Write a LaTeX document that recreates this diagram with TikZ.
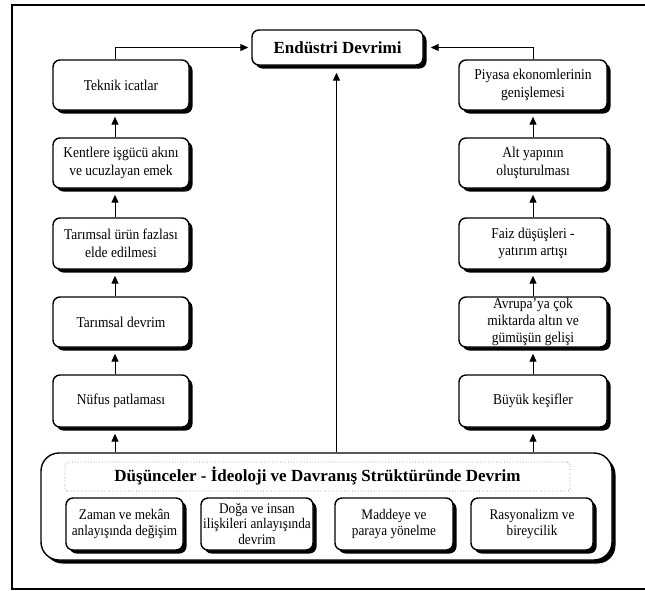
\documentclass[tikz,border=0pt]{standalone}
\usepackage{fontspec}
\setmainfont{Liberation Serif}
\newfontfamily\condserif[FakeStretch=0.9]{Liberation Serif}
\usetikzlibrary{arrows.meta,shadows,calc}
\newcommand\fsbox{\condserif\fontsize{15}{17.5}\selectfont}
\newcommand\fsboxtight{\condserif\fontsize{15}{16.6}\selectfont}
\newcommand\fssub{\condserif\fontsize{14.7}{15.4}\selectfont}
\newcommand\fstitle{\fontsize{17}{20}\selectfont\bfseries}
\tikzset{
  shad/.style={drop shadow={shadow xshift=3.5pt,shadow yshift=-3.5pt,fill=black,opacity=1}},
  box/.style={draw,line width=1.4pt,rounded corners=7pt,fill=white,inner sep=1pt,align=center,shad},
  colbox/.style={box,font=\fsbox,minimum height=50pt},
  lbox/.style={colbox,minimum width=136pt},
  rbox/.style={colbox,minimum width=148pt},
  subbox/.style={box,font=\fssub,minimum height=52pt},
  arr/.style={line width=1pt,-{Triangle[length=8pt,width=7pt]}}
}
\begin{document}
\begin{tikzpicture}[x=1pt,y=-1pt]
\useasboundingbox (0,0) rectangle (645,590);
\draw[line width=2pt] (12,5) rectangle (648,588.8);

\coordinate (lx) at (115,0);
\coordinate (rx) at (533,0);
\coordinate (cx) at (336.5,0);

\node[box,font=\fstitle,minimum width=171pt,minimum height=35pt] (endustri) at (337.5,47.5) {Endüstri Devrimi};

% left column
\node[lbox] (teknik) at (121,85) {Teknik icatlar};
\node[lbox] (kentlere) at (121,163) {Kentlere işgücü akını\\ve ucuzlayan emek};
\node[lbox,minimum height=51pt] (turun) at (121,243.5) {Tarımsal ürün fazlası\\elde edilmesi};
\node[lbox] (tdevrim) at (121,322) {Tarımsal devrim};
\node[lbox,minimum height=52pt] (nufus) at (121,401) {Nüfus patlaması};

% right column
\node[rbox] (piyasa) at (533,85) {Piyasa ekonomlerinin\\genişlemesi};
\node[rbox] (altyapi) at (533,163) {Alt yapının\\oluşturulması};
\node[rbox,minimum height=51pt] (faiz) at (533,243.5) {Faiz düşüşleri -\\yatırım artışı};
\node[rbox,font=\fsboxtight] (avrupa) at (533,322) {Avrupa’ya çok\\miktarda altın ve\\gümüşün gelişi};
\node[rbox,minimum height=52pt] (buyuk) at (533,401) {Büyük keşifler};

% bottom big box
\node[box,rounded corners=18pt,minimum width=571pt,minimum height=107pt] (big) at (326.5,506.5) {};
\node[draw=black!45,dotted,line width=0.7pt,rounded corners=3pt,minimum width=505pt,minimum height=29pt,inner sep=0pt,font=\fstitle] (title) at (317.5,476.5) {Düşünceler - İdeoloji ve Davranış Strüktüründe Devrim};
\node[subbox,minimum width=117pt] (zaman) at (124.5,524) {Zaman ve mekân\\anlayışında değişim};
\node[subbox,minimum width=112pt] (doga) at (257,524) {Doğa ve insan\\ilişkileri anlayışında\\devrim};
\node[subbox,minimum width=118pt] (madde) at (394,524) {Maddeye ve\\paraya yönelme};
\node[subbox,minimum width=122pt] (rasyo) at (532,524) {Rasyonalizm ve\\bireycilik};

% connectors left
\draw[arr,shorten >=6pt] (lx |- big.north) -- (lx |- nufus.south);
\draw[arr,shorten >=6pt] (lx |- nufus.north) -- (lx |- tdevrim.south);
\draw[arr,shorten >=6pt] (lx |- tdevrim.north) -- (lx |- turun.south);
\draw[arr,shorten >=6pt] (lx |- turun.north) -- (lx |- kentlere.south);
\draw[arr,shorten >=6pt] (lx |- kentlere.north) -- (lx |- teknik.south);
\draw[arr,shorten >=3pt] (lx |- teknik.north) |- (endustri.west);

% connectors right
\draw[arr,shorten >=6pt] (rx |- big.north) -- (rx |- buyuk.south);
\draw[arr,shorten >=6pt] (rx |- buyuk.north) -- (rx |- avrupa.south);
\draw[arr,shorten >=6pt] (rx |- avrupa.north) -- (rx |- faiz.south);
\draw[arr,shorten >=6pt] (rx |- faiz.north) -- (rx |- altyapi.south);
\draw[arr,shorten >=6pt] (rx |- altyapi.north) -- (rx |- piyasa.south);
\draw[arr,shorten >=7pt] (rx |- piyasa.north) |- (endustri.east);

% central
\draw[arr,shorten >=7pt] (cx |- big.north) -- (cx |- endustri.south);
\end{tikzpicture}
\end{document}
